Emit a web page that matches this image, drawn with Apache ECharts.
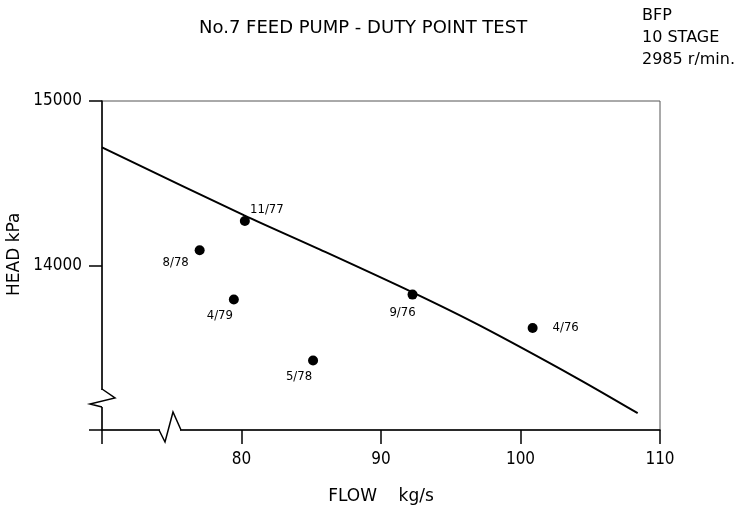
<!DOCTYPE html>
<html>
<head>
<meta charset="utf-8">
<script src="https://cdn.jsdelivr.net/npm/echarts@6.0.0/dist/echarts.min.js"></script>
<style>
  html, body { margin: 0; padding: 0; background: #fff; }
  #pumpChart { width: 745px; height: 514px; }
</style>
</head>
<body>
<div id="pumpChart"></div>
<script>
// pump characteristic curve (flow kg/s, head kPa)
var curveFlow = [70, 80.2, 85.6, 92.3, 97.1, 104.0, 108.4];
var curveHead = [14718, 14305, 14098, 13835, 13634, 13317, 13102];

// measured duty points
var pointNames = ['11/77', '8/78', '4/79', '5/78', '9/76', '4/76'];
var pointFlow = [80.24, 77.0, 79.45, 85.13, 92.26, 100.87];
var pointHead = [14270, 14093, 13793, 13423, 13823, 13620];

// axis ticks
var flowTicks = [70, 80, 90, 100, 110];
var headTicks = [13000, 14000, 15000];

var textFont = "'DejaVu Sans', sans-serif";
var tickFont = "'Liberation Sans Narrow', 'DejaVu Sans Condensed', 'DejaVu Sans', sans-serif";

// where each date label sits around its dot
var labelOffsets = {
  '11/77': [22, -11],
  '8/78': [-24, 12],
  '4/79': [-14, 16],
  '5/78': [-14, 16],
  '9/76': [-10, 18],
  '4/76': [33, 0]
};

var curveData = [];
for (var i = 0; i < curveFlow.length; i++) {
  curveData.push([curveFlow[i], curveHead[i]]);
}
var pointData = [];
for (var j = 0; j < pointNames.length; j++) {
  pointData.push({
    name: pointNames[j],
    value: [pointFlow[j], pointHead[j]],
    label: { offset: labelOffsets[pointNames[j]] }
  });
}

var myChart = echarts.init(document.getElementById('pumpChart'));
var option = {
  animation: false,
  backgroundColor: '#fff',
  title: {
    text: 'No.7 FEED PUMP - DUTY POINT TEST',
    left: 194,
    top: 14,
    textStyle: { fontFamily: textFont, fontSize: 18, fontWeight: 'normal', color: '#000' }
  },
  grid: {
    left: 102, right: 85, top: 101, bottom: 84,
    show: true,
    borderColor: '#555',
    borderWidth: 1
  },
  xAxis: {
    type: 'value',
    min: flowTicks[0],
    max: flowTicks[flowTicks.length - 1],
    interval: 10,
    name: 'FLOW    kg/s',
    nameLocation: 'middle',
    nameGap: 58,
    nameTextStyle: { fontFamily: textFont, fontSize: 17, color: '#000' },
    axisLine: { lineStyle: { color: '#000', width: 1.5 } },
    axisTick: { show: true, inside: false, length: 14, lineStyle: { color: '#000', width: 1.5 } },
    splitLine: { show: false },
    axisLabel: {
      margin: 21,
      fontFamily: tickFont, fontSize: 17, color: '#000',
      formatter: function (v) { return v === flowTicks[0] ? '' : String(v); }
    }
  },
  yAxis: {
    type: 'value',
    min: headTicks[0],
    max: headTicks[headTicks.length - 1],
    interval: 1000,
    axisLine: { lineStyle: { color: '#000', width: 1.5 } },
    axisTick: { show: true, inside: false, length: 13, lineStyle: { color: '#000', width: 1.5 } },
    splitLine: { show: false },
    axisLabel: {
      margin: 20,
      fontFamily: tickFont, fontSize: 17, color: '#000',
      formatter: function (v) { return v === headTicks[0] ? '' : String(v); }
    }
  },
  series: [
    {
      type: 'line',
      data: curveData,
      smooth: 0.3,
      showSymbol: false,
      lineStyle: { color: '#000', width: 2 },
      z: 3
    },
    {
      type: 'scatter',
      data: pointData,
      symbol: 'circle',
      symbolSize: 10,
      itemStyle: { color: '#000', opacity: 1 },
      label: {
        show: true,
        position: 'inside',
        align: 'center',
        verticalAlign: 'middle',
        formatter: '{b}',
        fontFamily: tickFont,
        fontSize: 13,
        color: '#000',
        opacity: 1
      },
      z: 4
    }
  ]
};
myChart.setOption(option, true);

// axis break marks and side notes, placed relative to the axis origin
var o = myChart.convertToPixel({ gridIndex: 0 }, [flowTicks[0], headTicks[0]]);
var ox = o[0], oy = o[1];
myChart.setOption({
  graphic: [
    {
      type: 'text', left: 642, top: 5, z: 100,
      style: { text: 'BFP\n10 STAGE\n2985 r/min.', font: '16px ' + textFont, fill: '#000', lineHeight: 22 }
    },
    {
      type: 'text', z: 100, x: 6, y: 296, rotation: Math.PI / 2,
      style: { text: 'HEAD kPa', font: '17px ' + textFont, fill: '#000' }
    },
    { type: 'rect', z: 100, shape: { x: ox - 4, y: oy - 40, width: 8, height: 17 }, style: { fill: '#fff' } },
    {
      type: 'polyline', z: 101,
      shape: { points: [[ox, oy - 41], [ox + 13, oy - 32], [ox - 12, oy - 26], [ox, oy - 23]] },
      style: { stroke: '#000', lineWidth: 1.5, fill: null }
    },
    { type: 'rect', z: 100, shape: { x: ox + 58, y: oy - 4, width: 20, height: 8 }, style: { fill: '#fff' } },
    {
      type: 'polyline', z: 101,
      shape: { points: [[ox + 57, oy], [ox + 63, oy + 12], [ox + 71, oy - 18], [ox + 79, oy]] },
      style: { stroke: '#000', lineWidth: 1.5, fill: null }
    }
  ]
});

window.addEventListener('resize', function () {
  myChart.resize();
});
</script>
</body>
</html>
